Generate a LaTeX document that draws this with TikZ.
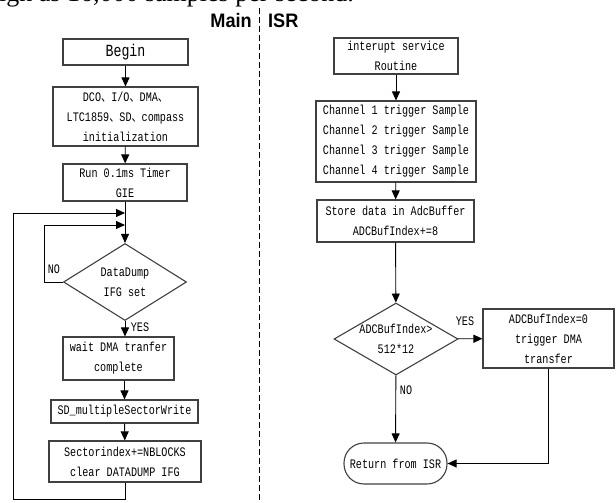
\documentclass[tikz,border=0pt]{standalone}
\usepackage{fontspec}
\usetikzlibrary{shapes.geometric, arrows.meta}
\setmainfont{Liberation Serif}
\newfontfamily\flowfont[FakeStretch=0.78]{Liberation Mono}
\newfontfamily\cjkfont[FakeStretch=0.78]{Noto Sans CJK SC}
\newfontfamily\headfont[FakeStretch=0.93]{Liberation Sans}
\newcommand{\dunhao}{{\cjkfont 、}}

\begin{document}
\begin{tikzpicture}[x=1pt, y=-1pt,
    box/.style={rectangle, draw=black!75, line width=1.1pt, inner sep=0pt, align=center, font=\flowfont\fontsize{13}{20}\selectfont},
    decision/.style={diamond, draw=black!75, line width=1.1pt, inner sep=-2pt, aspect=1.7, align=center, font=\flowfont\fontsize{13}{20}\selectfont},
    terminal/.style={box, rounded corners=20pt},
    arrow/.style={-{Triangle[length=9pt,width=8pt]}, line width=0.9pt},
    lbl/.style={font=\flowfont\fontsize{13}{16}\selectfont, inner sep=0pt},
    head/.style={font=\headfont\bfseries\fontsize{19.5}{20}\selectfont, inner sep=0pt}
]
    \useasboundingbox (0,0) rectangle (616,503);

    \node[anchor=base west, inner sep=0pt, font=\fontsize{26}{30}\selectfont] (intro) at (-1,2) {igh as 16,000 samples per second.};
    \node[head, anchor=east] (mainhd) at (252,21) {Main};
    \node[head, anchor=west] (isrhd) at (268,21) {ISR};
    \draw[line width=0.8pt, dash pattern=on 6pt off 3pt] (259,8) -- (259,503);

    % Main loop
    \node[box, font=\flowfont\fontsize{17}{20}\selectfont, minimum width=125pt, minimum height=26pt] (begin) at (125.5,52) {Begin};
    \node[box, minimum width=145pt, minimum height=59pt] (init) at (125.5,116.5) {DCO\dunhao I/O\dunhao DMA\dunhao\\LTC1859\dunhao SD\dunhao compass\\initialization};
    \node[box, minimum width=124pt, minimum height=37pt] (timer) at (125,182.5) {Run 0.1ms Timer\\GIE};
    \node[decision, minimum width=123pt, minimum height=77pt] (dump) at (125,282) {DataDump\\IFG set};
    \node[box, minimum width=111pt, minimum height=43pt] (wait) at (118.5,358.5) {wait DMA tranfer\\complete};
    \node[box, minimum width=147pt, minimum height=23pt] (write) at (124.5,411.5) {SD\_multipleSectorWrite};
    \node[box, minimum width=152pt, minimum height=41pt] (sector) at (125,461.5) {Sectorindex+=NBLOCKS\\clear DATADUMP IFG};
    \node[lbl] (noA) at (54,269) {NO};
    \node[lbl] (yesA) at (140,327) {YES};
    \coordinate (outerin) at (125,213);
    \coordinate (innerin) at (125,225);

    \draw[arrow] (begin) -- (init);
    \draw[arrow] (init) -- (timer);
    \draw[arrow] (timer) -- (dump);
    \draw[arrow] (dump) -- (dump |- wait.north);
    \draw[arrow] (wait.south -| write) -- (write);
    \draw[arrow] (write) -- (sector);
    \draw[arrow] (sector.south) -- ++(0,17) -| (13,213) -- (outerin);
    \draw[arrow] (dump.west) -| (44,225) -- (innerin);

    % ISR
    \node[box, minimum width=124pt, minimum height=36pt] (isr) at (396,56) {interupt service\\Routine};
    \node[box, minimum width=160pt, minimum height=81pt] (chan) at (396,141.5) {Channel 1 trigger Sample\\Channel 2 trigger Sample\\Channel 3 trigger Sample\\Channel 4 trigger Sample};
    \node[box, minimum width=157pt, minimum height=42pt] (store) at (395.5,221) {Store data in AdcBuffer\\ADCBufIndex+=8};
    \node[decision, minimum width=124pt, minimum height=72pt] (full) at (396,339) {ADCBufIndex>\\512*12};
    \node[box, minimum width=131pt, minimum height=59pt] (reset) at (548.5,338.5) {ADCBufIndex=0\\trigger DMA\\transfer};
    \node[terminal, minimum width=103pt, minimum height=41pt] (ret) at (395.5,463.5) {Return from ISR};
    \node[lbl] (yesB) at (465,321) {YES};
    \node[lbl] (noB) at (406,390) {NO};

    \draw[arrow] (isr) -- (chan);
    \draw[arrow] (chan) -- (store);
    \draw[arrow] (store) -- (full);
    \draw[arrow] (full) -- (reset);
    \draw[arrow] (full) -- (ret);
    \draw[arrow] (reset.south) |- (ret.east);
\end{tikzpicture}
\end{document}
